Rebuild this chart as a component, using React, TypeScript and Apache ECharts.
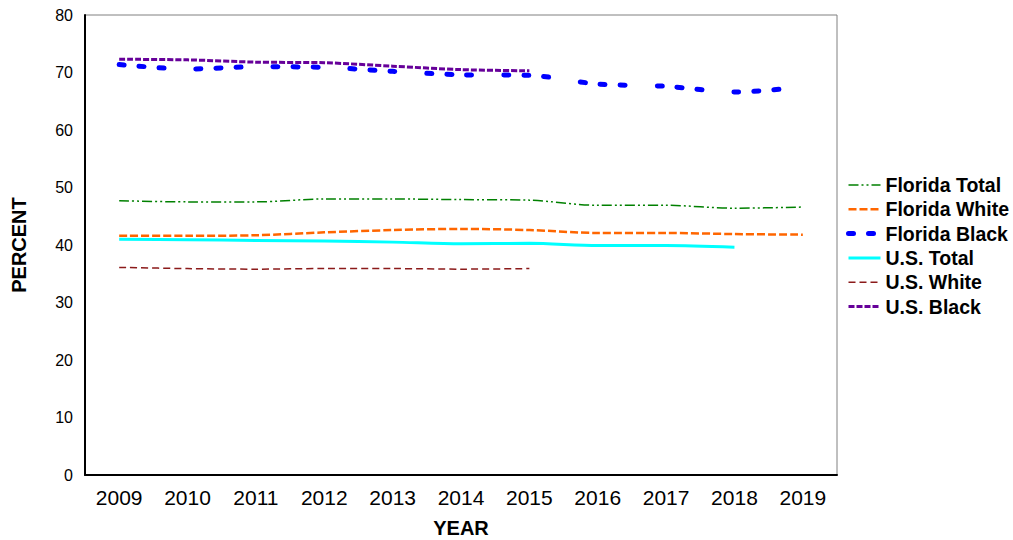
import React, { useEffect, useRef } from "react";
import * as echarts from "echarts";

const years = ["2009", "2010", "2011", "2012", "2013", "2014", "2015", "2016", "2017", "2018", "2019"];
const floridaTotal = [47.7, 47.5, 47.5, 48.0, 48.0, 47.9, 47.8, 46.9, 46.9, 46.4, 46.6];
const floridaWhite = [41.6, 41.6, 41.7, 42.2, 42.6, 42.8, 42.6, 42.1, 42.1, 41.9, 41.8];
const floridaBlack = [71.4, 70.6, 71.0, 70.9, 70.2, 69.6, 69.5, 68.0, 67.6, 66.6, 67.5];
const usTotal = [41.0, 40.9, 40.8, 40.7, 40.5, 40.2, 40.3, 39.9, 39.9, 39.6, null];
const usWhite = [36.1, 35.9, 35.8, 35.9, 35.9, 35.8, 35.9, null, null, null, null];
const usBlack = [72.3, 72.2, 71.8, 71.7, 71.1, 70.5, 70.3, null, null, null, null];
const yTicks = { min: 0, max: 80, interval: 10 };

const seriesDefs = [
  { name: "Florida Total", data: floridaTotal, lineStyle: { color: "#008000", width: 1.5, type: [10, 3, 2, 3, 2, 3] } },
  { name: "Florida White", data: floridaWhite, lineStyle: { color: "#FF6600", width: 2.5, type: [8, 3] } },
  { name: "Florida Black", data: floridaBlack, lineStyle: { color: "#0000FF", width: 5, type: [5, 15, 5, 15, 5, 32], cap: "round" } },
  { name: "U.S. Total", data: usTotal, lineStyle: { color: "#00FFFF", width: 3, type: "solid" } },
  { name: "U.S. White", data: usWhite, lineStyle: { color: "#8B1A1A", width: 1.5, type: [7, 4] } },
  { name: "U.S. Black", data: usBlack, lineStyle: { color: "#660099", width: 3, type: [6, 2] } },
];

export default function App() {
  const ref = useRef<HTMLDivElement>(null);
  useEffect(() => {
    document.body.style.margin = "0";
    const chart = echarts.init(ref.current!, null, { renderer: "svg" });
    chart.setOption({
      animation: false,
      backgroundColor: "#ffffff",
      textStyle: { fontFamily: "Liberation Sans, Arial, sans-serif" },
      grid: {
        left: 85,
        right: 176,
        top: 15,
        bottom: 65,
        show: true,
        borderColor: "#808080",
        borderWidth: 1,
        outerBoundsMode: "none",
        containLabel: false,
      },
      legend: {
        orient: "vertical",
        left: 841,
        top: 170,
        itemWidth: 32,
        itemHeight: 14,
        itemGap: 4.3,
        textStyle: { color: "#000", fontSize: 19.5, fontWeight: "bold", fontFamily: "Liberation Sans, Arial, sans-serif" },
        data: seriesDefs.map((s) => ({
          name: s.name,
          lineStyle: s.lineStyle,
          itemStyle: { color: "transparent", borderWidth: 0, opacity: 0 },
        })),
      },
      xAxis: {
        type: "category",
        data: years,
        boundaryGap: true,
        name: "YEAR",
        nameLocation: "middle",
        nameGap: 43,
        nameTextStyle: { color: "#000", fontSize: 20, fontWeight: "bold" },
        axisLine: { show: true, lineStyle: { color: "#000", width: 2 } },
        axisTick: { show: false },
        axisLabel: { color: "#000", fontSize: 21, margin: 12 },
        splitLine: { show: false },
      },
      yAxis: {
        type: "value",
        min: yTicks.min,
        max: yTicks.max,
        interval: yTicks.interval,
        name: "PERCENT",
        nameLocation: "middle",
        nameRotate: 90,
        nameGap: 56,
        nameTextStyle: { color: "#000", fontSize: 20, fontWeight: "bold" },
        axisLine: { show: true, lineStyle: { color: "#000", width: 2 } },
        axisTick: { show: false },
        axisLabel: { color: "#000", fontSize: 16, margin: 12 },
        splitLine: { show: false },
      },
      series: seriesDefs.map((s) => ({
        name: s.name,
        type: "line",
        data: s.data,
        symbol: "none",
        smooth: 0.3,
        connectNulls: false,
        lineStyle: s.lineStyle,
        itemStyle: { color: s.lineStyle.color },
      })),
    });
    return () => chart.dispose();
  }, []);
  return <div ref={ref} style={{ width: 1013, height: 540 }} />;
}
